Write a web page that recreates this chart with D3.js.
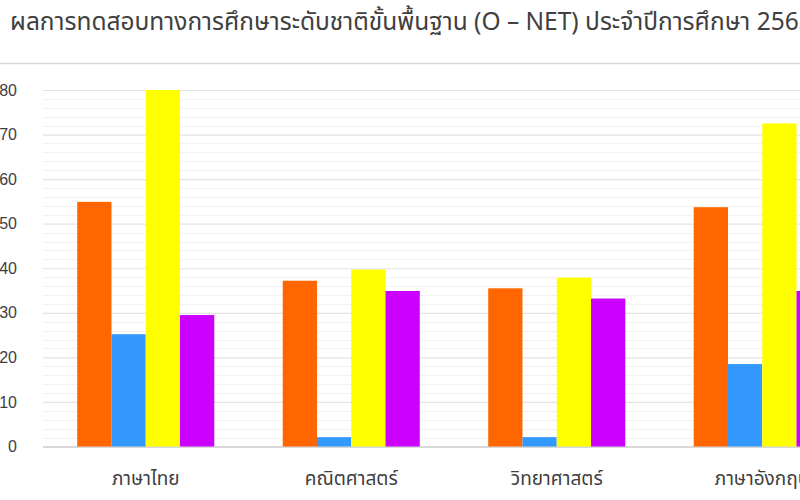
<!DOCTYPE html>
<html>
<head>
<meta charset="utf-8">
<script src="https://cdn.jsdelivr.net/npm/d3@7"></script>
<style>
html,body{margin:0;padding:0;background:#fff;overflow:hidden;}
svg{display:block;}
</style>
</head>
<body>
<svg id="chart" width="800" height="500"></svg>
<script>
const titleText = "ผลการทดสอบทางการศึกษาระดับชาติขั้นพื้นฐาน (O – NET) ประจำปีการศึกษา 2563";
const categories = ["ภาษาไทย", "คณิตศาสตร์", "วิทยาศาสตร์", "ภาษาอังกฤษ"];
const seriesNames = ["s1", "s2", "s3", "s4"];
const seriesColors = ["#FF6600", "#3399FF", "#FFFF00", "#CC00FF"];
const series1 = [54.9, 37.2, 35.5, 53.7];
const series2 = [25.2, 2.1, 2.1, 18.5];
const series3 = [80.0, 39.7, 37.9, 72.5];
const series4 = [29.5, 34.9, 33.2, 34.9];
const yTicks = [0, 10, 20, 30, 40, 50, 60, 70, 80];
const yMinorTicks = d3.range(0, 81, 2);

const svg = d3.select("#chart");
const thaiFont = "'Noto Sans Thai','Leelawadee UI','Tahoma','Noto Sans',sans-serif";

const y = d3.scaleLinear().domain([0, 80]).range([446.5, 90]);
const x = d3.scaleBand().domain(categories).range([43, 865]).paddingInner(0.333).paddingOuter(0.1665);
const xs = d3.scaleBand().domain(seriesNames).range([0, x.bandwidth()]);

// title
svg.append("text").attr("x", 10).attr("y", 30)
  .attr("font-family", thaiFont).attr("font-size", 24.5).attr("fill", "#404040")
  .text(titleText);

// top border line
svg.append("line").attr("x1", 0).attr("x2", 800).attr("y1", 63.5).attr("y2", 63.5)
  .attr("stroke", "#d9d9d9").attr("stroke-width", 1.5);

// minor gridlines
svg.append("g").selectAll("line").data(yMinorTicks.filter(v => v % 10 !== 0)).join("line")
  .attr("x1", 43).attr("x2", 800)
  .attr("y1", d => Math.round(y(d)) + 0.5).attr("y2", d => Math.round(y(d)) + 0.5)
  .attr("stroke", "#f2f2f2").attr("stroke-width", 1);

// major gridlines via axis
const yAxis = d3.axisLeft(y).tickValues(yTicks).tickSize(-(800 - 43)).tickPadding(26).tickFormat(d3.format("d"));
const gy = svg.append("g").attr("transform", "translate(43,0)").call(yAxis);
gy.select(".domain").remove();
gy.selectAll(".tick line").attr("stroke", d => d === 0 ? "#d9d9d9" : "#e3e3e3").attr("stroke-width", d => d === 0 ? 2 : 1.2);
gy.selectAll(".tick text").attr("font-family", "'Liberation Sans', Arial, sans-serif").attr("font-size", 16).attr("fill", "#404040");

// bars
const data = [series1, series2, series3, series4];
const groups = svg.append("g").selectAll("g").data(categories).join("g")
  .attr("transform", d => `translate(${x(d)},0)`);
groups.selectAll("rect").data((c, i) => data.map((s, j) => ({ key: seriesNames[j], v: s[i], color: seriesColors[j] }))).join("rect")
  .attr("x", d => xs(d.key))
  .attr("width", xs.bandwidth())
  .attr("y", d => y(d.v))
  .attr("height", d => y(0) - y(d.v))
  .attr("fill", d => d.color);

// category labels
const xAxis = d3.axisBottom(x).tickSize(0).tickPadding(25);
const gx = svg.append("g").attr("transform", "translate(0,446.5)").call(xAxis);
gx.select(".domain").remove();
gx.selectAll(".tick text").attr("font-family", thaiFont).attr("font-size", 19).attr("fill", "#404040");
</script>
</body>
</html>
